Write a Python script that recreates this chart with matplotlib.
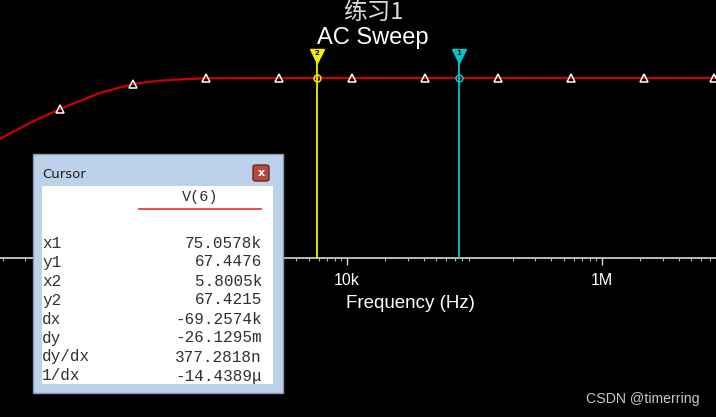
import numpy as np
import matplotlib
matplotlib.use('Agg')
from matplotlib import pyplot as plt
from matplotlib.patches import Rectangle, FancyBboxPatch
from matplotlib.ticker import FixedLocator, LogLocator, NullFormatter

# response (Hz, dB)
freq = [19.0, 32.6, 56.1, 115.6, 210, 341, 556, 784, 2930, 5800.5, 10900,
        40900, 75057.8, 153000, 571000, 2130000, 7830000]
gain = [44.6, 50.6, 55.8, 61.8, 65.2, 66.4, 67.0, 67.3, 67.40, 67.4215, 67.43,
        67.44, 67.4476, 67.45, 67.45, 67.44, 67.44]

marker_freq = [56.1, 210, 784, 2930, 10900, 40900, 153000, 571000, 2130000, 7550000]
marker_gain = [55.8, 65.2, 67.3, 67.40, 67.43, 67.44, 67.45, 67.45, 67.44, 67.44]

cursor_x = [75057.8, 5800.5]      # cursor 1, cursor 2
cursor_y = [67.4476, 67.4215]
cursor_names = ['1', '2']
cursor_colors = ['#00c8c8', '#f0f000']

tick_freq = [1e2, 1e4, 1e6]
tick_text = ['100', '10k', '1M']

table_names = ['x1', 'y1', 'x2', 'y2', 'dx', 'dy', 'dy/dx', '1/dx']
table_values = ['75.0578k', '67.4476', '5.8005k', '67.4215', '-69.2574k',
                '-26.1295m', '377.2818n', '-14.4389\u03bc']

W, H = 716, 417


def fx(x):
    return x / W


def fy(y):
    return 1 - y / H


fig = plt.figure(figsize=(W / 100, H / 100), dpi=100, facecolor='black')
ax = fig.add_axes([0, fy(258), 1, 258 / H])
ax.set_facecolor('black')
ax.set_xscale('log')
ax.set_xlim(19.0, 7.83e6)
ax.set_ylim(0, 96.6)

for s in ['top', 'left', 'right']:
    ax.spines[s].set_visible(False)
ax.spines['bottom'].set_color('#d8d8d8')
ax.spines['bottom'].set_linewidth(1.2)
ax.yaxis.set_visible(False)

ax.xaxis.set_major_locator(FixedLocator(tick_freq))
ax.set_xticklabels(tick_text)
ax.xaxis.set_minor_locator(LogLocator(base=10, subs=np.arange(2, 10), numticks=20))
ax.xaxis.set_minor_formatter(NullFormatter())
ax.tick_params(axis='x', which='major', colors='#d8d8d8', length=5, width=1,
               labelsize=11.5, labelcolor='white', pad=6)
ax.tick_params(axis='x', which='minor', colors='#b0b0b0', length=2.5, width=0.8)
for lab in ax.get_xticklabels():
    lab.set_family('Liberation Sans')

ax.plot(freq, gain, color='#cc0000', lw=1.6, zorder=2)
ax.plot(marker_freq, marker_gain, ls='none', marker='^', ms=6, mfc='none',
        mec='white', mew=1.1, zorder=3)

# cursors
for cx, cy, name, col in zip(cursor_x, cursor_y, cursor_names, cursor_colors):
    ax.vlines(cx, 0, 74.0, color=col, lw=1.3, zorder=4)
    ax.plot([cx], [cy], ls='none', marker='o', ms=5, mfc='none', mec=col, mew=1.1, zorder=5)
    ax.plot([cx], [75.6], ls='none', marker='v', ms=10, mfc=col, mec=col, zorder=5)
    ax.text(cx, 76.6, name, ha='center', va='center', fontsize=5, color='black',
            fontweight='bold', zorder=6)

# titles
fig.text(fx(373), fy(12), '练习1', ha='center', va='center', fontsize=17,
         color='#dcdcdc', family=['Noto Sans CJK SC', 'DejaVu Sans'])
fig.text(fx(373), fy(38), 'AC Sweep', ha='center', va='center', fontsize=17,
         color='white', family='Liberation Sans')
fig.text(fx(410), fy(303), 'Frequency (Hz)', ha='center', va='center', fontsize=13.5,
         color='white', family='Liberation Sans')
fig.text(fx(643), fy(399), 'CSDN @timerring', ha='center', va='center', fontsize=10.2,
         color='#c8c8c8', family='Liberation Sans')

# cursor window
fig.add_artist(Rectangle((fx(33), fy(393)), fx(250), 239 / H, transform=fig.transFigure,
                         facecolor='#bcd2ea', edgecolor='#8898ac', lw=1, zorder=10))
fig.add_artist(Rectangle((fx(42), fy(384)), fx(231), 198 / H, transform=fig.transFigure,
                         facecolor='white', edgecolor='none', zorder=11))
fig.add_artist(FancyBboxPatch((fx(253), fy(181)), fx(16), 16 / H, transform=fig.transFigure,
                              boxstyle='round,pad=0,rounding_size=0.004',
                              facecolor='#b84a3c', edgecolor='#6a2a24', lw=1, zorder=11))
fig.text(fx(261), fy(173), 'x', ha='center', va='center', fontsize=8, color='white',
         fontweight='bold', zorder=12)
fig.text(fx(42), fy(174), 'Cursor', ha='left', va='center', fontsize=9.5,
         color='#1e1e1e', zorder=12)
fig.text(fx(200), fy(197), 'V(6)', ha='center', va='center', fontsize=11,
         color='#303030', family='Liberation Mono', zorder=12)
fig.add_artist(plt.Line2D([fx(139), fx(261)], [fy(209), fy(209)], transform=fig.transFigure,
                          color='#e84040', lw=1.3, zorder=12))

row_y = 243
for name, val in zip(table_names, table_values):
    fig.text(fx(42), fy(row_y), name, ha='left', va='center', fontsize=11.5,
             color='#303030', family='Liberation Mono', zorder=12)
    fig.text(fx(262), fy(row_y), val, ha='right', va='center', fontsize=11.5,
             color='#303030', family='Liberation Mono', zorder=12)
    row_y += 19

fig.savefig('out.png', dpi=100, facecolor='black')
